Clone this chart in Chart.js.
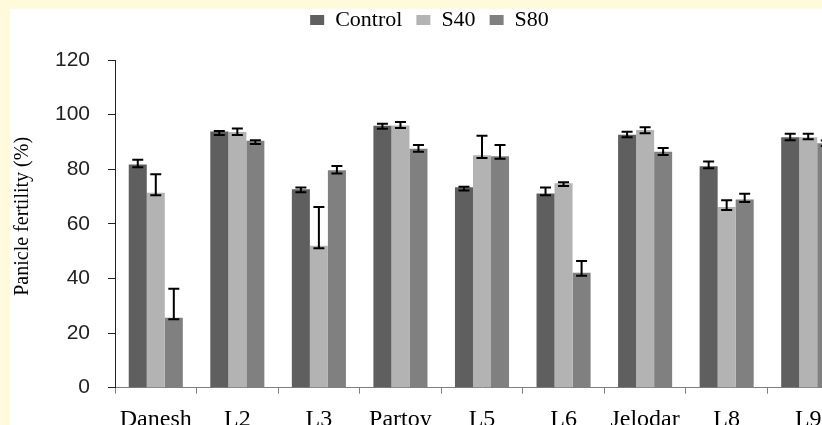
<!DOCTYPE html>
<html>
<head>
<meta charset="utf-8">
<script src="https://cdn.jsdelivr.net/npm/chart.js@4"></script>
<style>
  html, body { margin: 0; padding: 0; background: #FFFADC; overflow: hidden; width: 822px; height: 425px; }
  #wrap { position: absolute; left: 10px; top: 9px; width: 839px; height: 416px; background: #ffffff; }
</style>
</head>
<body>
<div id="wrap"><canvas id="c"></canvas></div>
<script>
const categories = ['Danesh', 'L2', 'L3', 'Partoy', 'L5', 'L6', 'Jelodar', 'L8', 'L9'];
const seriesNames = ['Control', 'S40', 'S80'];
const yTicks = [0, 20, 40, 60, 80, 100, 120];

const controlValues = [81.7, 93.8, 72.7, 95.9, 73.4, 71.1, 92.6, 81.1, 91.7];
const controlHigh   = [83.5, 94.0, 73.3, 96.7, 73.6, 73.3, 93.7, 82.8, 93.0];
const controlLow    = [80.7, 92.5, 71.6, 94.8, 72.2, 70.5, 91.7, 80.4, 90.6];

const s40Values = [71.4, 93.6, 52.0, 96.0, 85.1, 74.9, 94.4, 66.2, 91.7];
const s40High   = [78.2, 94.9, 66.2, 97.3, 92.3, 75.2, 95.4, 68.6, 93.0];
const s40Low    = [70.5, 92.5, 51.1, 95.1, 84.1, 73.9, 93.2, 65.1, 91.0];

const s80Values = [25.6, 90.4, 79.6, 87.5, 84.8, 42.1, 86.4, 68.9, 89.5];
const s80High   = [36.2, 90.6, 81.2, 88.9, 88.9, 46.4, 87.8, 71.0, 90.5];
const s80Low    = [25.1, 89.2, 78.4, 86.4, 83.8, 41.0, 85.2, 68.0, 88.5];

const colors = ['#5f5f5f', '#b3b3b3', '#808080'];

const errorBarPlugin = {
  id: 'errorBars',
  afterDatasetsDraw(chart) {
    const ctx = chart.ctx;
    const y = chart.scales.y;
    chart.data.datasets.forEach((ds, di) => {
      const meta = chart.getDatasetMeta(di);
      meta.data.forEach((bar, i) => {
        const yh = y.getPixelForValue(ds.errHigh[i]);
        const yl = y.getPixelForValue(ds.errLow[i]);
        ctx.save();
        ctx.strokeStyle = '#000000';
        ctx.lineWidth = 2;
        ctx.beginPath();
        ctx.moveTo(bar.x, yh); ctx.lineTo(bar.x, yl);
        ctx.moveTo(bar.x - 5.5, yh); ctx.lineTo(bar.x + 5.5, yh);
        ctx.moveTo(bar.x - 5.5, yl); ctx.lineTo(bar.x + 5.5, yl);
        ctx.stroke();
        ctx.restore();
      });
    });
  }
};

new Chart(document.getElementById('c'), {
  type: 'bar',
  data: {
    labels: categories,
    datasets: [
      { label: seriesNames[0], data: controlValues, errHigh: controlHigh, errLow: controlLow, backgroundColor: colors[0] },
      { label: seriesNames[1], data: s40Values, errHigh: s40High, errLow: s40Low, backgroundColor: colors[1] },
      { label: seriesNames[2], data: s80Values, errHigh: s80High, errLow: s80Low, backgroundColor: colors[2] }
    ]
  },
  options: {
    responsive: true,
    maintainAspectRatio: false,
    animation: false,
    datasets: { bar: { barPercentage: 1.0, categoryPercentage: 0.663 } },
    layout: { padding: { top: -14, right: 0, bottom: 0, left: 0 } },
    plugins: {
      legend: {
        position: 'top',
        labels: {
          font: { family: 'Liberation Serif', size: 22 },
          color: '#000000',
          boxWidth: 14,
          boxHeight: 10,
          padding: 14
        }
      },
      title: {
        display: true,
        text: ' ',
        weight: 500,
        font: { size: 19, lineHeight: 1 },
        padding: { top: 0, bottom: 0 }
      },
      tooltip: { enabled: false }
    },
    scales: {
      x: {
        afterFit: (scale) => { scale.height = 37.3; },
        grid: { display: true, drawOnChartArea: false, drawTicks: true, tickLength: 6, color: '#808080', offset: true },
        border: { display: true, color: '#808080', width: 1 },
        ticks: { font: { family: 'Liberation Serif', size: 24 }, color: '#000000', padding: 12, maxRotation: 0, autoSkip: false }
      },
      y: {
        min: 0,
        max: 120,
        afterFit: (scale) => { scale.width = 105; },
        afterBuildTicks: (scale) => { scale.ticks = yTicks.map(v => ({ value: v })); },
        grid: { display: true, drawOnChartArea: false, drawTicks: true, tickLength: 7, color: '#222222' },
        border: { display: true, color: '#222222', width: 1 },
        ticks: { font: { family: 'Liberation Sans', size: 21 }, color: '#222222', padding: 18 },
        title: {
          display: true,
          text: '   Panicle fertility (%)',
          font: { family: 'Liberation Serif', size: 20 },
          color: '#000000',
          padding: { top: 1, bottom: 0 }
        }
      }
    }
  },
  plugins: [errorBarPlugin]
});
</script>
</body>
</html>
